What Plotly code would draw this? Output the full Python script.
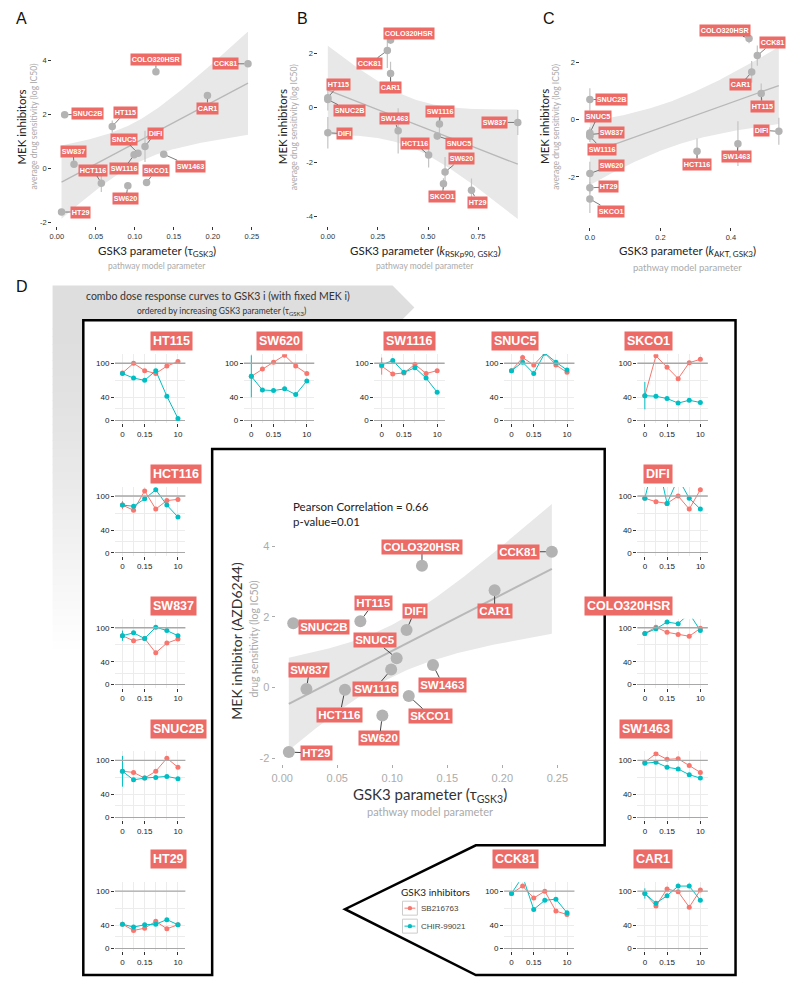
import numpy as np
import plotly.graph_objects as go

W, H = 800, 991

# ---------------- data ----------------
cell_lines = ["HT115", "SW620", "SW1116", "SNUC5", "SKCO1", "HCT116", "SW837",
              "SNUC2B", "HT29", "DIFI", "COLO320HSR", "SW1463", "CCK81", "CAR1"]

# panel A / centre: tau_GSK3
tau_gsk3 = [0.071, 0.091, 0.099, 0.104, 0.115, 0.057, 0.022,
            0.010, 0.006, 0.113, 0.127, 0.137, 0.245, 0.193]
mek_avg_a = [1.57, -0.63, 0.52, 0.58, -0.51, -0.53, 0.17,
             2.00, -1.60, 0.83, 3.60, 0.54, 3.89, 2.72]
mek_avg_a_err = [0.22, 0, 0, 0, 0.10, 0.33, 0.10, 0, 0.10, 0.58, 0, 0, 0, 0]

# panel B: k_RSKp90,GSK3
k_rsk_gsk3 = [0.0, 0.585, 0.557, 0.546, 0.577, 0.503, 0.948,
              0.0, 0.717, 0.0, 0.313, 0.351, 0.297, 0.313]
mek_avg_b = [0.37, -2.36, -0.60, -1.04, -2.79, -1.74, -0.54,
             0.30, -3.03, -0.92, 2.49, -0.85, 2.10, 1.26]
mek_avg_b_err = [0.47, 0.55, 0.46, 0.15, 0.20, 0.46, 0.46,
                 0.10, 0.43, 0.58, 0.15, 0.83, 0.64, 0.43]

# panel C: k_AKT,GSK3
k_akt_gsk3 = [0.486, 0.0, 0.0, 0.0, 0.0, 0.304, 0.0,
              0.0, 0.0, 0.536, 0.4515, 0.42, 0.475, 0.459]
mek_avg_c = [0.91, -1.88, -0.58, -0.47, -2.77, -1.10, -0.52,
             0.70, -2.38, -0.41, 2.83, -0.84, 2.23, 1.66]
mek_avg_c_err = [0.35, 0.41, 0.20, 0.20, 0.49, 0.44, 0.20,
                 0.39, 0.20, 0.47, 0.17, 0.78, 0.35, 0.38]

# centre panel: AZD6244
azd6244_ic50 = [1.88, -0.79, 0.51, 0.83, -0.24, -0.06, -0.04,
                1.82, -1.83, 1.63, 3.45, 0.64, 3.85, 2.76]

# combo dose response (6 doses of GSK3 inhibitor)
dose_index = [1, 2, 3, 4, 5, 6]
dose_tick_pos = [1, 3, 6]
dose_tick_labels = ["0", "0.15", "10"]
viability_ticks = [0, 40, 100]

sb216763 = {
    "HT115": [83, 100, 87, 82, 95, 103],
    "SW620": [77, 90, 102, 114, 95, 82],
    "SW1116": [95, 81, 83, 98, 82, 87],
    "SNUC5": [87, 110, 97, 118, 97, 84],
    "SKCO1": [43, 113, 93, 73, 101, 107],
    "HCT116": [84, 75, 109, 77, 92, 94],
    "SW837": [86, 77, 81, 56, 73, 80],
    "SNUC2B": [81, 79, 69, 81, 104, 88],
    "HT29": [42, 31, 35, 47, 34, 41],
    "DIFI": [96, 90, 87, 100, 77, 111],
    "COLO320HSR": [90, 101, 92, 88, 85, 99],
    "SW1463": [97, 112, 102, 103, 91, 79],
    "CCK81": [96, 109, 88, 100, 65, 59],
    "CAR1": [96, 74, 104, 99, 72, 102],
}
chir99021 = {
    "HT115": [82, 74, 70, 87, 42, 3],
    "SW620": [77, 53, 52, 55, 45, 69],
    "SW1116": [97, 105, 84, 92, 74, 49],
    "SNUC5": [87, 102, 82, 118, 102, 88],
    "SKCO1": [43, 42, 38, 30, 35, 31],
    "HCT116": [84, 82, 95, 111, 84, 63],
    "SW837": [86, 91, 81, 101, 95, 86],
    "SNUC2B": [81, 66, 69, 70, 72, 68],
    "HT29": [42, 37, 41, 42, 50, 41],
    "DIFI": [96, 175, 87, 131, 96, 77],
    "COLO320HSR": [90, 98, 110, 107, 125, 95],
    "SW1463": [95, 97, 88, 85, 75, 69],
    "CCK81": [96, 126, 68, 84, 86, 62],
    "CAR1": [96, 79, 92, 109, 109, 84],
}
sb216763_err0 = {"SW1116": 15, "HCT116": 7}
chir99021_err0 = {"SW620": 37, "SKCO1": 24, "SNUC2B": 27, "SW837": 9, "CAR1": 9}

# ---------------- style ----------------
RED = "#F8766D"
TEAL = "#00BFC4"
LABEL_BG = "#EC6B66"
PT_GRAY = "#b3b3b3"
BAND = "#E8E8E8"
FIT = "#b8b8b8"
SANS = "Liberation Sans, Arial, sans-serif"
MYR = "Lato, Liberation Sans, sans-serif"

layout_axes = {}
traces = []
annotations = []
shapes = []
axis_count = [0]


def make_axes(xpx, ypx, xkw, ykw):
    axis_count[0] += 1
    i = axis_count[0]
    xname = "xaxis" if i == 1 else f"xaxis{i}"
    yname = "yaxis" if i == 1 else f"yaxis{i}"
    xref = "x" if i == 1 else f"x{i}"
    yref = "y" if i == 1 else f"y{i}"
    layout_axes[xname] = dict(xkw, domain=[xpx[0] / W, xpx[1] / W], anchor=yref)
    layout_axes[yname] = dict(ykw, domain=[1 - ypx[1] / H, 1 - ypx[0] / H], anchor=xref)
    return xref, yref


def fit_band(xs, ys):
    x = np.asarray(xs, float)
    y = np.asarray(ys, float)
    n = len(x)
    b, a = np.polyfit(x, y, 1)
    xg = np.linspace(x.min(), x.max(), 120)
    yh = a + b * xg
    res = y - (a + b * x)
    s = np.sqrt(np.sum(res ** 2) / (n - 2))
    sxx = np.sum((x - x.mean()) ** 2)
    se = s * np.sqrt(1.0 / n + (xg - x.mean()) ** 2 / sxx)
    t = 2.179
    return xg, yh, yh - t * se, yh + t * se


def scatter_panel(xpx, ypx, xr, yr, xt, xtt, yt, xs, ys, errs, offsets,
                  tfs, tcol, msize, lfs, lpad, lw, cw):
    axkw = dict(ticks="outside", ticklen=3, tickwidth=1, tickcolor=tcol,
                tickfont=dict(size=tfs, color=tcol, family=SANS),
                showgrid=False, zeroline=False, showline=False, fixedrange=True)
    xref, yref = make_axes(xpx, ypx,
                           dict(axkw, range=xr, tickvals=xt, ticktext=xtt),
                           dict(axkw, range=yr, tickvals=yt, ticktext=[str(v) for v in yt]))
    xg, yh, lo, hi = fit_band(xs, ys)
    traces.append(go.Scatter(x=np.concatenate([xg, xg[::-1]]), y=np.concatenate([hi, lo[::-1]]),
                             fill="toself", fillcolor=BAND, line=dict(width=0), mode="lines",
                             hoverinfo="skip", xaxis=xref, yaxis=yref))
    traces.append(go.Scatter(x=xg, y=yh, mode="lines", line=dict(color=FIT, width=lw),
                             hoverinfo="skip", xaxis=xref, yaxis=yref))
    ekw = dict(type="data", array=errs, color="#c4c4c4", thickness=1.2, width=0, visible=True) if errs else None
    traces.append(go.Scatter(x=xs, y=ys, mode="markers", marker=dict(size=msize, color=PT_GRAY),
                             error_y=ekw, xaxis=xref, yaxis=yref))
    for name, xv, yv in zip(cell_lines, xs, ys):
        ax, ay = offsets[name]
        annotations.append(dict(xref=xref, yref=yref, x=xv, y=yv, ax=ax, ay=ay,
                                text=f"<b>{name}</b>", showarrow=True, arrowhead=0,
                                arrowwidth=cw, arrowcolor="#444", standoff=msize / 2,
                                bgcolor=LABEL_BG, borderpad=lpad,
                                font=dict(color="white", size=lfs, family=SANS)))
    return xref, yref


def text(x, y, s, size, color="#222", family=MYR, angle=0, xanchor="center", yanchor="middle"):
    annotations.append(dict(xref="paper", yref="paper", x=x / W, y=1 - y / H, text=s,
                            showarrow=False, textangle=angle, xanchor=xanchor, yanchor=yanchor,
                            font=dict(size=size, color=color, family=family)))


# ---------------- label offsets (px) ----------------
lab_a = {"COLO320HSR": (0, -12), "CCK81": (-23, 0), "CAR1": (0, 13), "SNUC2B": (23, -1),
         "HT115": (13, -14), "DIFI": (10, -13), "SNUC5": (-14, -14), "SW1116": (-10, 14),
         "SW1463": (27, 12), "SW837": (-1, -13), "HCT116": (-8, -13), "SKCO1": (9, -12),
         "SW620": (-2, 13), "HT29": (19, 0)}
lab_b = {"COLO320HSR": (18, -7), "CCK81": (-18, 13), "CAR1": (0, 14), "HT115": (11, -13),
         "SNUC2B": (22, 11), "DIFI": (17, 1), "SW1463": (-4, -12), "SW1116": (1, -13),
         "SNUC5": (22, 7), "HCT116": (-14, -12), "SW620": (16, -13), "SKCO1": (-1, 13),
         "HT29": (6, 12), "SW837": (-23, 0)}
lab_c = {"COLO320HSR": (-24, -8), "CCK81": (15, -13), "CAR1": (-11, 13), "HT115": (1, 13),
         "DIFI": (-17, -1), "SNUC2B": (22, 0), "SNUC5": (8, -17), "SW837": (22, -2),
         "SW1116": (12, 13), "HCT116": (0, 13), "SW1463": (-1, 13), "SW620": (22, -8),
         "HT29": (19, -1), "SKCO1": (21, 12)}
lab_m = {"COLO320HSR": (0, -19), "CCK81": (-33, 0), "CAR1": (0, 21), "SNUC2B": (31, 4),
         "HT115": (13, -18), "DIFI": (8, -19), "SNUC5": (-22, -18), "SW1116": (-16, 19),
         "SW1463": (10, 20), "SW837": (3, -19), "HCT116": (-5, 25), "SKCO1": (22, 20),
         "SW620": (-3, 23), "HT29": (28, 1)}

# ---------------- background shapes of panel D ----------------
def P(x, y):
    return f"{x / W},{1 - y / H}"

shapes.append(dict(type="path", xref="paper", yref="paper", layer="below",
                   path="M " + " L ".join(P(*p) for p in [(49, 286), (392, 286), (414, 308), (392, 330), (49, 330)]) + " Z",
                   fillcolor="#dedede", line=dict(width=0)))
n_strip = 40
for k in range(n_strip):
    y0 = 329 + k * (650 - 329) / n_strip
    y1 = 329 + (k + 1) * (650 - 329) / n_strip + 0.6
    t = (k + 0.5) / n_strip
    c = int(round(222 + 33 * t ** 1.4))
    shapes.append(dict(type="rect", xref="paper", yref="paper", layer="below",
                       x0=49 / W, x1=80 / W, y0=1 - y1 / H, y1=1 - y0 / H,
                       fillcolor=f"rgb({c},{c},{c})", line=dict(width=0)))
outline = [(80, 321), (738, 321), (738, 977), (476, 977), (344, 911), (476, 847), (606, 847),
           (606, 450), (210, 450), (210, 977), (80, 977)]
shapes.append(dict(type="path", xref="paper", yref="paper", layer="below",
                   path="M " + " L ".join(P(*p) for p in outline) + " Z",
                   fillcolor="white", line=dict(color="black", width=2.5)))

# ---------------- scatter panels ----------------
scatter_panel((48.6, 255.6), (22, 226), [-0.006, 0.257], [-2.1, 5.44],
              [0, 0.05, 0.10, 0.15, 0.20, 0.25], ["0.00", "0.05", "0.10", "0.15", "0.20", "0.25"],
              [-2, 0, 2, 4], tau_gsk3, mek_avg_a, mek_avg_a_err, lab_a,
              7.5, "#333", 7.5, 7.2, 0.8, 1.3, 0.7)
scatter_panel((317.1, 527.9), (27, 226), [-0.0474, 0.9954], [-4.33, 2.97],
              [0, 0.25, 0.5, 0.75], ["0.00", "0.25", "0.50", "0.75"],
              [-4, -2, 0, 2], k_rsk_gsk3, mek_avg_b, mek_avg_b_err, lab_b,
              7.5, "#333", 7.5, 7.2, 0.8, 1.3, 0.7)
scatter_panel((581.5, 791.2), (24.4, 227.6), [-0.0268, 0.5628], [-3.75, 3.32],
              [0, 0.2, 0.4], ["0.0", "0.2", "0.4"],
              [-2, 0, 2], k_akt_gsk3, mek_avg_c, mek_avg_c_err, lab_c,
              7.5, "#333", 7.5, 7.2, 0.8, 1.3, 0.7)
scatter_panel((274, 566), (491, 766), [-0.006, 0.257], [-2.18, 5.6],
              [0, 0.05, 0.10, 0.15, 0.20, 0.25], ["0.00", "0.05", "0.10", "0.15", "0.20", "0.25"],
              [-2, 0, 2, 4], tau_gsk3, azd6244_ic50, None, lab_m,
              11, "#ababab", 12, 11.5, 1.2, 2, 1)

# panel letters and axis titles (top row)
for lab, x in (("A", 18), ("B", 301), ("C", 550)):
    text(x, 19, lab, 16, "#111", SANS)
text(18, 287, "D", 16, "#111", SANS)

for xm, xs_ in ((18, 30), (281, 292), (546, 557)):
    text(xm, 127, "MEK inhibitors", 11.5, "#222", MYR, -90)
    text(xs_, 127, "average drug sensitivity (log IC50)", 8.5, "#aaaaaa", MYR, -90)
text(154, 252, "GSK3 parameter (τ<sub>GSK3</sub>)", 11.5)
text(154, 267, "pathway model parameter", 8.5, "#aaaaaa")
text(425, 252, "GSK3 parameter (<i>k</i><sub>RSKp90, GSK3</sub>)", 11.5)
text(425, 267, "pathway model parameter", 8.5, "#aaaaaa")
text(690, 252, "GSK3 parameter (<i>k</i><sub>AKT, GSK3</sub>)", 11.5)
text(690, 268, "pathway model parameter", 9.5, "#aaaaaa")

# centre titles
text(235, 642, "MEK inhibitor (AZD6244)", 14, "#333", MYR, -90)
text(252, 640, "drug sensitivity (log IC50)", 10.5, "#aaaaaa", MYR, -90)
text(430, 797, "GSK3 parameter (τ<sub>GSK3</sub>)", 15, "#333")
text(430, 813, "pathway model parameter", 11, "#aaaaaa")
text(290, 508, "Pearson Correlation = 0.66", 11.5, "#222", MYR, 0, "left")
text(290, 523, "p-value=0.01", 11.5, "#222", MYR, 0, "left")

# arrow texts
text(216, 297, "combo dose response curves to GSK3 i (with fixed MEK i)", 10.5, "#333")
text(219, 312, "ordered by increasing GSK3 parameter (τ<sub>GSK3</sub>)", 8.5, "#333")

# ---------------- small dose-response panels ----------------
col_x = [119.5, 249.5, 381, 512, 646.5]
row_y = [364, 497, 629, 762, 893]
panel_grid = {"HT115": (0, 0), "SW620": (1, 0), "SW1116": (2, 0), "SNUC5": (3, 0), "SKCO1": (4, 0),
              "HCT116": (0, 1), "DIFI": (4, 1), "SW837": (0, 2), "COLO320HSR": (4, 2),
              "SNUC2B": (0, 3), "SW1463": (4, 3), "HT29": (0, 4), "CCK81": (3, 4), "CAR1": (4, 4)}
GRID = "#ececec"
for name, (col, row) in panel_grid.items():
    t0 = col_x[col]
    y100 = row_y[row]
    xpx = (t0 - 7.5, t0 + 63.5)
    ypx = (y100 - 9, y100 + 60)
    common = dict(ticks="outside", ticklen=3, tickwidth=1, tickcolor="#333",
                  tickfont=dict(size=8, color="#222", family=SANS), showline=False,
                  showgrid=True, gridcolor=GRID, gridwidth=0.7, fixedrange=True)
    xref, yref = make_axes(
        xpx, ypx,
        dict(common, range=[0.33, 6.67], tickvals=dose_tick_pos, ticktext=dose_tick_labels,
             zeroline=False,
             minor=dict(tickvals=[2, 4, 5], showgrid=True, gridcolor=GRID, gridwidth=0.7, ticks="")),
        dict(common, range=[-5.26, 115.8], tickvals=viability_ticks,
             ticktext=[str(v) for v in viability_ticks],
             zeroline=True, zerolinecolor="#a8a8a8", zerolinewidth=1.3,
             minor=dict(tickvals=[20, 70], showgrid=True, gridcolor=GRID, gridwidth=0.7, ticks="")))
    shapes.append(dict(type="line", xref=f"{xref} domain", yref=yref, x0=0, x1=1, y0=100, y1=100,
                       line=dict(color="#a8a8a8", width=1.3)))
    for series, errd, colr in ((sb216763, sb216763_err0, RED), (chir99021, chir99021_err0, TEAL)):
        e = [0] * len(dose_index)
        if name in errd:
            e[0] = errd[name]
        traces.append(go.Scatter(x=dose_index, y=series[name], mode="lines+markers",
                                 line=dict(color=colr, width=1), marker=dict(size=5, color=colr),
                                 error_y=dict(type="data", array=e, color=colr, thickness=1, width=0),
                                 xaxis=xref, yaxis=yref))
    annotations.append(dict(xref="paper", yref="paper", x=(t0 + 28) / W, y=1 - (y100 - 22) / H,
                            text=f"<b>{name}</b>", showarrow=False, bgcolor=LABEL_BG, borderpad=2,
                            font=dict(color="white", size=12.5, family=SANS)))

# ---------------- legend (drawn) ----------------
text(398, 894, "GSK3 inhibitors", 10, "#222", MYR, 0, "left")
for k, (lab, colr) in enumerate((("SB216763", RED), ("CHIR-99021", TEAL))):
    yc = 910 + 18 * k
    shapes.append(dict(type="rect", xref="paper", yref="paper", x0=402 / W, x1=417 / W,
                       y0=1 - (yc + 7) / H, y1=1 - (yc - 7) / H, line=dict(color="#cccccc", width=1)))
    shapes.append(dict(type="line", xref="paper", yref="paper", x0=404 / W, x1=415 / W,
                       y0=1 - yc / H, y1=1 - yc / H, line=dict(color=colr, width=1)))
    shapes.append(dict(type="circle", xref="paper", yref="paper", x0=407.3 / W, x1=411.7 / W,
                       y0=1 - (yc + 2.2) / H, y1=1 - (yc - 2.2) / H, fillcolor=colr, line=dict(width=0)))
    text(419, yc, lab, 8, "#444", SANS, 0, "left")

fig = go.Figure(data=traces)
fig.update_layout(width=W, height=H, margin=dict(l=0, r=0, t=0, b=0), autosize=False,
                  paper_bgcolor="white", plot_bgcolor="rgba(0,0,0,0)", showlegend=False,
                  font=dict(family=SANS, color="#333"),
                  annotations=annotations, shapes=shapes, **layout_axes)
fig.write_html("out.html", config={"displayModeBar": False},
               post_script="document.body.style.margin='0';")
